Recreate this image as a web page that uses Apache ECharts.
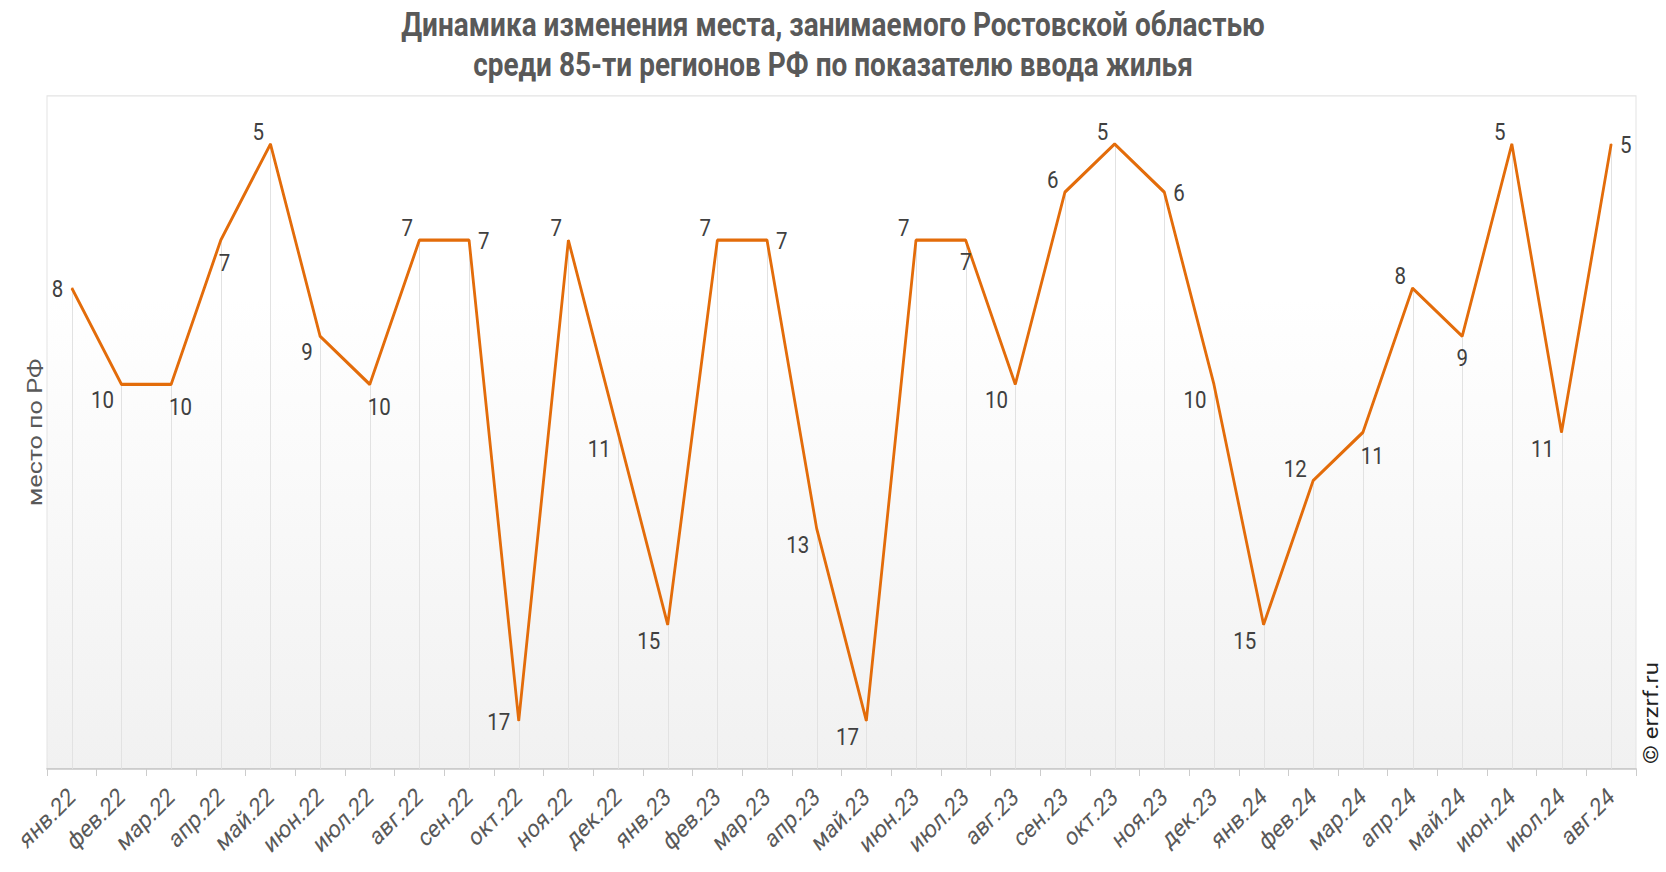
<!DOCTYPE html>
<html><head><meta charset="utf-8">
<script src="https://cdn.jsdelivr.net/npm/echarts@6/dist/echarts.min.js"></script>
<style>
html,body{margin:0;padding:0;background:#fff;overflow:hidden}
#wrap{width:1666px;height:872px;overflow:hidden}
#c{width:1666px;height:727px;transform:scale(1,1.19945);transform-origin:0 0}
</style>
</head><body><div id="wrap"><div id="c"></div></div>
<script>
const categories = ['янв.22','фев.22','мар.22','апр.22','май.22','июн.22','июл.22','авг.22','сен.22','окт.22','ноя.22','дек.22',
  'янв.23','фев.23','мар.23','апр.23','май.23','июн.23','июл.23','авг.23','сен.23','окт.23','ноя.23','дек.23',
  'янв.24','фев.24','мар.24','апр.24','май.24','июн.24','июл.24','авг.24'];
const ranks = [8,10,10,7,5,9,10,7,7,17,7,11, 15,7,7,13,17,7,7,10,6,5,6,10, 15,12,11,8,9,5,11,5];
const titleLines = ['Динамика изменения места, занимаемого Ростовской областью',
  'среди 85-ти регионов РФ по показателю ввода жилья'];
// label placement codes (style only)
const labelSide = ['L','BL','BR','BR','TL','BL','BR','TL','R','L','TL','BL',
  'BL','TL','R','BL','BL','TL','B','BL','TL','TL','R','BL',
  'BL','TL','BR','TL','B','TL','BL','R'];

const DIG = 11.4, SY = 1 / 1.19945;
function offsetFor(code, v){
  const w = String(v).length * DIG;
  let o;
  switch(code){
    case 'L': o = [-(8.5 + w/2), 1]; break;
    case 'R': o = [(9 + w/2), 1]; break;
    case 'TL': o = [-(6.5 + w/2), -12]; break;
    case 'BL': o = [-(7.5 + w/2), 16]; break;
    case 'BR': o = [(-2 + w/2), 23]; break;
    case 'B': o = [0, 22]; break;
    default: o = [0, 0];
  }
  return [o[0], o[1] * SY];
}
const lineData = ranks.map((v,i)=>({value:v, label:{offset: offsetFor(labelSide[i], v)}}));

const titleStyle = {fontFamily:'Roboto', fontSize:28, fontWeight:'bold', color:'#595959', lineHeight:28};
const chart = echarts.init(document.getElementById('c'), null, {renderer:'svg'});
chart.setOption({
  animation:false,
  title:[
    {text:titleLines[0], left:'center', top:1.5, textStyle:titleStyle},
    {text:titleLines[1], left:'center', top:34.5, textStyle:titleStyle}
  ],
  grid:{left:47, right:30, top:80, bottom:86, show:true, borderColor:'#e3e3e3', borderWidth:1,
    backgroundColor:new echarts.graphic.LinearGradient(0,0,0,1,[{offset:0,color:'#ffffff'},{offset:0.3,color:'#ffffff'},{offset:1,color:'#f1f1f1'}])},
  xAxis:{type:'category', data:categories, boundaryGap:true,
    axisLine:{lineStyle:{color:'#cccccc', width:1.5}},
    axisTick:{show:true, interval:0, length:6, lineStyle:{color:'#cccccc'}},
    axisLabel:{interval:0, rotate:40, fontFamily:'Roboto', fontSize:21, color:'#595959', margin:20},
    splitLine:{show:false}
  },
  yAxis:{type:'value', inverse:true, min:4, max:18,
    axisLabel:{show:false}, axisTick:{show:false}, axisLine:{show:false}, splitLine:{show:false},
    name:'место по РФ', nameLocation:'middle', nameRotate:90, nameGap:2,
    nameTextStyle:{fontFamily:'Roboto', fontSize:21, color:'#595959'}
  },
  series:[
    {type:'custom', silent:true, z:1,
      renderItem:function(params, api){
        const p = api.coord([api.value(0), api.value(1)]);
        const b = api.coord([api.value(0), 18]);
        return {type:'line', shape:{x1:Math.round(p[0])+0.5, y1:p[1], x2:Math.round(p[0])+0.5, y2:b[1]},
          style:{stroke:'#e2e2e2', lineWidth:1}};
      },
      data: ranks.map((v,i)=>[i, v])
    },
    {type:'line', z:3, data:lineData, symbol:'circle', symbolSize:1, showSymbol:true,
      lineStyle:{color:'#e36c0a', width:2.8}, itemStyle:{color:'#e36c0a'},
      label:{show:true, position:'inside', fontFamily:'Roboto', fontSize:20.5, color:'#404040'}
    }
  ],
  graphic:[
    {type:'text', left:1641, top:552, rotation:Math.PI/2, style:{text:'© erzrf.ru', fontFamily:'Roboto', fontSize:20, fill:'#222222'}}
  ]
});
</script></body></html>
